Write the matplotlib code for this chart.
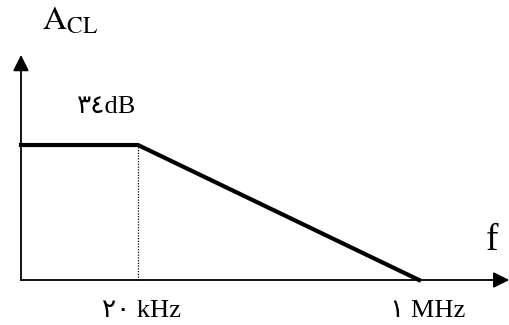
import numpy as np
import matplotlib
matplotlib.use('Agg')
import matplotlib.pyplot as plt

# closed-loop gain response (straight-line approximation)
freq_hz = [3.92e3, 20e3, 1e6]
gain_db = [34, 34, 0]
corner_hz = 20e3
unity_hz = 1e6

gain_label = '٣٤dB'
corner_label = '٢٠ kHz'
unity_label = '١ MHz'

serif = ['Liberation Serif', 'DejaVu Sans']
plt.rcParams['mathtext.fontset'] = 'stix'

fig = plt.figure(figsize=(5.1, 3.25), dpi=100)
ax = fig.add_axes([0, 0, 1, 1])
ax.set_xscale('log')
ax.set_xlim(freq_hz[0] / 10 ** (21 / 165.4), unity_hz * 10 ** (91 / 165.4))
ax.set_ylim(-45 / 3.97, 280 / 3.97)
ax.axis('off')

x0 = freq_hz[0]
head = dict(arrowstyle='-|>', mutation_scale=24, lw=1.3,
            color='black', shrinkA=0, shrinkB=0)
# axes with arrow heads
ax.annotate('', xy=(x0, 280 / 3.97 - 55 / 3.97), xytext=(x0, 0), arrowprops=head)
ax.annotate('', xy=(ax.get_xlim()[1] * 0.99, 0), xytext=(x0, 0), arrowprops=head)

# response curve
ax.plot(freq_hz, gain_db, color='black', lw=3, solid_joinstyle='miter')
ax.plot([corner_hz, corner_hz], [0, gain_db[1]], color='black', lw=0.9,
        linestyle=(0, (1, 1.2)))

fig.text(0.082, 0.908, r'$\mathrm{A}_{\mathrm{CL}}$', fontsize=24)
fig.text(0.150, 0.652, gain_label, fontsize=19, family=serif)
fig.text(0.200, 0.025, corner_label, fontsize=19, family=serif)
fig.text(0.765, 0.025, unity_label, fontsize=19, family=serif)
fig.text(0.953, 0.231, 'f', fontsize=27, family=serif)

fig.savefig('out.png', dpi=100, facecolor='white')
